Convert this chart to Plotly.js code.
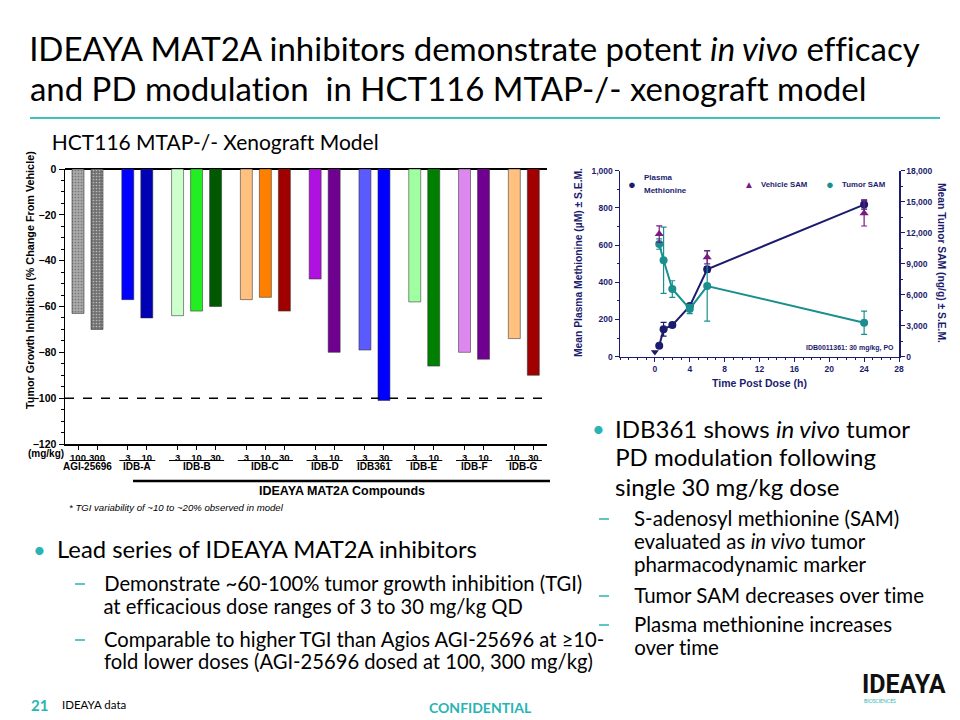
<!DOCTYPE html>
<html><head><meta charset="utf-8">
<script src="https://cdn.plot.ly/plotly-3.0.1.min.js"></script>
<style>html,body{margin:0;padding:0;background:#fff;}#chart{width:960px;height:720px;}
#chart text{font-variant-ligatures:none;font-feature-settings:"liga" 0,"clig" 0,"dlig" 0;}</style>
</head><body><div id="chart"></div>
<script>
// ---------- Bar chart data (TGI) ----------
const groups = ['AGI-25696','IDB-A','IDB-B','IDB-C','IDB-D','IDB361','IDB-E','IDB-F','IDB-G'];
const groupDoses = [[100,300],[3,10],[3,10,30],[3,10,30],[3,10],[3,30],[3,10],[3,10],[10,30]];
const tgiValues = [[-63,-70],[-57,-65],[-64,-62,-60],[-57,-56,-62],[-48,-80],[-79,-101],[-58,-86],[-80,-83],[-74,-90]];
const barColors = [['#a9a9a9','#707070'],['#0000ff','#0000b4'],['#ccffcc','#22ee22','#005800'],['#ffc080','#ff8000','#a00000'],['#b010e0','#700090'],['#5a5aff','#0000ff'],['#a0ffa0','#008000'],['#dd88ee','#700090'],['#ffc080','#a00000']];
const yTicksTGI = [0,-20,-40,-60,-80,-100,-120];

// ---------- PK/PD data ----------
const timeH = [0.5,1,2,4,6,24];
const plasmaMet = [59,148,170,272,470,818];
const plasmaErr = [6,37,10,12,15,25];
const predoseTime = [0];
const predoseMet = [25];
const tumorSAM = [10900,9330,6550,4620,6840,3290];
const tumorErr = [500,3200,800,450,3400,1130];
const vehicleTime = [0.5,6,24];
const vehicleSAM = [11870,9620,13880];
const vehicleErr = [800,640,1230];
const timeTicks = [0,4,8,12,16,20,24,28];

// ---------- positions along the bar axis ----------
const pos = []; const flatDose = []; const flatVal = []; const flatCol = []; const flatGroup = [];
const groupFirst = [], groupLast = [];
let p = 0;
groups.forEach((g,gi)=>{
  groupFirst.push(p);
  groupDoses[gi].forEach((d,di)=>{
    pos.push(p); flatDose.push(String(d)); flatVal.push(tgiValues[gi][di]);
    flatCol.push(barColors[gi][di]); flatGroup.push(gi);
    groupLast[gi] = p; p += 1;
  });
  p += 0.62;
});
const agiIdx = flatGroup.map((g,i)=>g===0?i:-1).filter(i=>i>=0);
const idbIdx = flatGroup.map((g,i)=>g!==0?i:-1).filter(i=>i>=0);
const pick = (arr, idx) => idx.map(i=>arr[i]);

const NAVY = '#1c1c6e', TEAL = '#1a8f8f', PURPLE = '#7a1a82', BTEAL = '#2ab3b3';
const traces = [
  {type:'bar', x: pick(pos,agiIdx), y: pick(flatVal,agiIdx), width:0.63, xaxis:'x', yaxis:'y',
   marker:{color: pick(flatCol,agiIdx), line:{color:'rgba(50,50,50,0.6)', width:1},
     pattern:{shape:'.', fgcolor:'#555', size:3, solidity:0.25, fillmode:'overlay'}}, hoverinfo:'skip'},
  {type:'bar', x: pick(pos,idbIdx), y: pick(flatVal,idbIdx), width:0.63, xaxis:'x', yaxis:'y',
   marker:{color: pick(flatCol,idbIdx), line:{color:'rgba(50,50,50,0.55)', width:1}}, hoverinfo:'skip'},
  {type:'scatter', mode:'lines+markers', x: timeH, y: tumorSAM, xaxis:'x2', yaxis:'y3',
   line:{color:TEAL, width:2}, marker:{color:TEAL, size:8, symbol:'circle'},
   error_y:{type:'data', array:tumorErr, color:TEAL, thickness:1.2, width:3}},
  {type:'scatter', mode:'markers', x: vehicleTime, y: vehicleSAM, xaxis:'x2', yaxis:'y3',
   marker:{color:PURPLE, size:8, symbol:'triangle-up'},
   error_y:{type:'data', array:vehicleErr, color:PURPLE, thickness:1.2, width:3}},
  {type:'scatter', mode:'lines+markers', x: timeH, y: plasmaMet, xaxis:'x2', yaxis:'y2',
   line:{color:NAVY, width:2}, marker:{color:NAVY, size:8, symbol:'circle'},
   error_y:{type:'data', array:plasmaErr, color:NAVY, thickness:1.2, width:3}},
  {type:'scatter', mode:'markers', x: predoseTime, y: predoseMet, xaxis:'x2', yaxis:'y2',
   marker:{color:NAVY, size:7, symbol:'triangle-down'}}
];

const px = x => x/960, py = y => 1 - y/720;
const ann = [];
function txt(x, y, text, size, o={}) {
  ann.push(Object.assign({xref:'paper', yref:'paper', x:px(x), y:py(y), text, showarrow:false,
    xanchor:o.xanchor||'left', yanchor:'middle',
    font:{family:o.family||'Lato, sans-serif', size, color:o.color||'#000', weight:o.weight||'normal'}}, o.extra||{}));
}
const CH = 'Liberation Sans, Arial, sans-serif';
function ctxt(x, y, text, size, o={}) {
  ann.push({xref:'paper', yref:'paper', x:px(x), y:py(y), text, showarrow:false,
    xanchor:o.xanchor||'center', yanchor:'middle', textangle:o.angle||0,
    font:{family:CH, size, color:o.color||'#000', weight:o.weight||'bold', style:o.style||'normal'}});
}
// bullet dash drawn as a short line (not text)
const dashShapes = [];
function dash(x, y) {
  dashShapes.push({type:'line', xref:'paper', yref:'paper', x0:px(x), x1:px(x+10), y0:py(y+1), y1:py(y+1), line:{color:BTEAL, width:1.5}});
}

// Slide title and texts
txt(28, 48, 'IDEAYA MAT2A inhibitors demonstrate potent <i>in vivo</i> efficacy', 33);
txt(28, 88, 'and PD modulation  in HCT116 MTAP-/- xenograft model', 33);
txt(50, 142, 'HCT116 MTAP-/- Xenograft Model', 21);

// left bullets
txt(31, 549, '•', 22, {color:BTEAL});
txt(55, 549, 'Lead series of IDEAYA MAT2A inhibitors', 23.8);
dash(75, 583);
txt(102, 583, 'Demonstrate ~60-100% tumor growth inhibition (TGI)', 20.2);
txt(102, 606, 'at efficacious dose ranges of 3 to 30 mg/kg QD', 20.2);
dash(75, 639);
txt(102, 639, 'Comparable to higher TGI than Agios AGI-25696 at ≥10-', 20.2);
txt(102, 661, 'fold lower doses (AGI-25696 dosed at 100, 300 mg/kg)', 20.2);

// right bullets
txt(590, 428, '•', 22, {color:BTEAL});
txt(613, 428, 'IDB361 shows <i>in vivo</i> tumor', 24);
txt(613, 456, 'PD modulation following', 24);
txt(613, 486, 'single 30 mg/kg dose', 24);
dash(599, 518);
txt(632, 518, 'S-adenosyl methionine (SAM)', 20.5);
txt(632, 541, 'evaluated as <i>in vivo</i> tumor', 20.5);
txt(632, 564, 'pharmacodynamic marker', 20.5);
dash(599, 595);
txt(632, 595, 'Tumor SAM decreases over time', 20.5);
dash(599, 624);
txt(632, 624, 'Plasma methionine increases', 20.5);
txt(632, 647, 'over time', 20.5);

// footer
txt(29, 705, '21', 15, {color:BTEAL, weight:'bold'});
txt(60, 704, 'IDEAYA data', 11.5);
txt(480, 707, 'CONFIDENTIAL', 14, {color:BTEAL, weight:'bold', xanchor:'center'});
txt(860, 684, 'IDEAYA', 25, {weight:'bold', family:'Liberation Sans Narrow, Roboto, sans-serif', color:'#111'});
txt(862, 701, 'BIOSCIENCES', 5, {color:BTEAL});

// bar chart annotations
ctxt(30, 280, 'Tumor Growth Inhibition (% Change From Vehicle)', 10.8, {angle:-90});
ctxt(46, 453, '(mg/kg)', 10);
groups.forEach((g,gi)=>{
  ann.push({xref:'x', yref:'paper', x:(groupFirst[gi]+groupLast[gi])/2, y:py(466), text:g, showarrow:false,
    xanchor:'center', yanchor:'middle', font:{family:CH, size:10, color:'#000', weight:'bold'}});
});
ctxt(342, 491, 'IDEAYA MAT2A Compounds', 12.5);
ctxt(67, 507, '* TGI variability of ~10 to ~20% observed in model', 9.6, {xanchor:'left', weight:'normal', style:'italic'});

// right chart annotations
ctxt(578, 263, 'Mean Plasma Methionine (µM) ± S.E.M.', 10.3, {angle:-90, color:NAVY});
ctxt(942, 263, 'Mean Tumor SAM (ng/g) ± S.E.M.', 10.3, {angle:90, color:NAVY});
ctxt(759, 383, 'Time Post Dose (h)', 10.5, {color:NAVY});
ctxt(632, 184, '●', 13, {color:NAVY});
ctxt(642, 177, 'Plasma', 8, {xanchor:'left', color:NAVY});
ctxt(642, 191, 'Methionine', 8, {xanchor:'left', color:NAVY});
ctxt(749, 184, '▲', 10, {color:PURPLE});
ctxt(759, 184, 'Vehicle SAM', 7.8, {xanchor:'left', color:NAVY});
ctxt(830, 184, '●', 13, {color:TEAL});
ctxt(840, 184, 'Tumor SAM', 7.8, {xanchor:'left', color:NAVY});
ctxt(896, 348, 'IDB0011361: 30 mg/kg, PO', 7, {xanchor:'right', color:NAVY});

const shapes = [
  {type:'line', xref:'paper', yref:'paper', x0:px(30), x1:px(940), y0:py(118), y1:py(118), line:{color:'#3fc1c1', width:2}},
  {type:'line', xref:'x domain', yref:'y', x0:0, x1:1, y0:-100, y1:-100, line:{color:'#000', width:1.5, dash:'dash'}},
  {type:'line', xref:'paper', yref:'paper', x0:px(133), x1:px(550), y0:py(481), y1:py(481), line:{color:'#000', width:2.5}}
].concat(dashShapes);
groups.forEach((g,gi)=>{
  shapes.push({type:'line', xref:'x', yref:'paper', x0:groupFirst[gi]-0.45, x1:groupLast[gi]+0.45,
    y0:py(460.5), y1:py(460.5), line:{color:'#000', width:1.2}});
});

const tfL = {family:CH, size:10.5, color:'#000', weight:'bold'};
const tfX = {family:CH, size:9.5, color:'#000', weight:'bold'};
const tfR = {family:CH, size:8.5, color:NAVY, weight:'bold'};
const layout = {
  width:960, height:720, margin:{l:0,r:0,t:0,b:0}, paper_bgcolor:'#fff', plot_bgcolor:'rgba(0,0,0,0)',
  showlegend:false, bargap:0,
  xaxis:{domain:[px(65), px(547)], anchor:'y', range:[-0.684, 24.68], tickmode:'array', tickvals:pos, ticktext:flatDose,
    tickangle:0, ticks:'outside', ticklen:4, tickcolor:'#000', showline:true, linecolor:'#000', linewidth:1.5,
    showgrid:false, zeroline:false, tickfont:tfX, fixedrange:true},
  yaxis:{domain:[py(444), py(169)], anchor:'x', range:[-120, 0], tickmode:'array', tickvals:yTicksTGI,
    ticks:'outside', ticklen:5, tickcolor:'#000', minor:{dtick:5, tick0:0, ticks:'outside', ticklen:3, tickcolor:'#000', showgrid:false},
    showline:true, linecolor:'#000', linewidth:1.5, showgrid:false, zeroline:true, zerolinecolor:'#000', zerolinewidth:1.5,
    tickfont:tfL},
  xaxis2:{domain:[px(620), px(899)], anchor:'y2', range:[-4, 28], tickmode:'array', tickvals:timeTicks, tickangle:0,
    ticks:'outside', ticklen:4, tickcolor:NAVY, minor:{dtick:1, tick0:0, ticks:'outside', ticklen:2, tickcolor:NAVY, showgrid:false},
    showline:true, linecolor:NAVY, linewidth:1.5, showgrid:false, zeroline:false, tickfont:tfR},
  yaxis2:{domain:[py(356.7), py(170.7)], anchor:'x2', range:[0,1000], dtick:200, tickformat:',d',
    ticks:'outside', ticklen:4, tickcolor:NAVY, minor:{dtick:100, ticks:'outside', ticklen:2, tickcolor:NAVY, showgrid:false},
    showline:true, linecolor:NAVY, linewidth:1.5, showgrid:false, zeroline:false, tickfont:tfR},
  yaxis3:{overlaying:'y2', side:'right', anchor:'x2', range:[0,18000], dtick:3000, tickformat:',d',
    ticks:'outside', ticklen:4, tickcolor:NAVY, minor:{dtick:1500, ticks:'outside', ticklen:2, tickcolor:NAVY, showgrid:false},
    showline:true, linecolor:NAVY, linewidth:1.5, showgrid:false, zeroline:false, tickfont:tfR},
  annotations: ann, shapes: shapes
};
Plotly.newPlot('chart', traces, layout, {staticPlot:true, displayModeBar:false});
</script></body></html>
